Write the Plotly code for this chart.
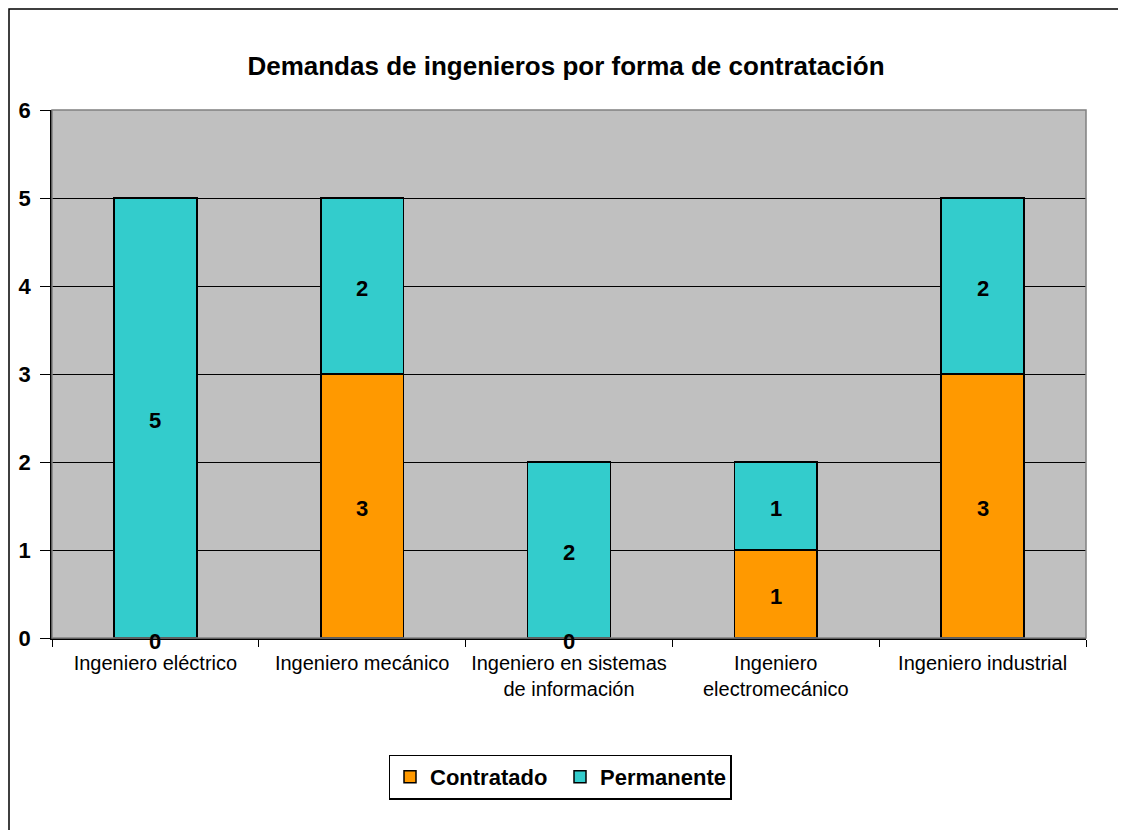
import plotly.graph_objects as go

categorias = ["Ingeniero eléctrico", "Ingeniero mecánico",
              "Ingeniero en sistemas<br>de información",
              "Ingeniero<br>electromecánico", "Ingeniero industrial"]
contratado = [0, 3, 0, 1, 3]
permanente = [5, 2, 2, 1, 2]

FONT = "Liberation Sans, Arial, sans-serif"
# desplazamiento de la pagina (margen del body)
OFF = 8
W, H = 1126 - OFF, 830 - OFF
L, T = 52 - OFF, 110 - OFF
R, B = W - (1086 - OFF), H - (638 - OFF)
pw, ph = W - L - R, H - T - B

fig = go.Figure()
fig.add_trace(go.Bar(name="Contratado", x=categorias, y=contratado,
                     marker=dict(color="#FF9900", line=dict(color="black", width=1.5))))
fig.add_trace(go.Bar(name="Permanente", x=categorias, y=permanente,
                     marker=dict(color="#33CCCC", line=dict(color="black", width=1.5))))

# etiquetas de datos centradas en cada segmento
lab_font = dict(size=22, color="black", family=FONT, weight="bold")
for cat, c, p in zip(categorias, contratado, permanente):
    fig.add_annotation(x=cat, y=c / 2, text=str(c), showarrow=False,
                       font=lab_font, yshift=-2 if c else -3)
    fig.add_annotation(x=cat, y=c + p / 2, text=str(p), showarrow=False,
                       font=lab_font, yshift=-2)

# borde del area de trazado (gris) y borde exterior
fig.add_shape(type="rect", xref="paper", yref="paper", x0=0, x1=1, y0=0, y1=1,
              line=dict(color="#808080", width=1.5), layer="above")
fig.add_shape(type="rect", xref="paper", yref="paper",
              x0=(1 - L) / pw, x1=1.2, y0=-1, y1=1 + (T - 1) / ph,
              line=dict(color="black", width=1.5))

fig.update_layout(
    width=W, height=H,
    margin=dict(l=L, r=R, t=T, b=B, autoexpand=False),
    barmode="stack", bargap=0.6,
    paper_bgcolor="white", plot_bgcolor="#C0C0C0",
    font=dict(family=FONT, color="black"),
    title=dict(text="<b>Demandas de ingenieros por forma de contratación</b>",
               x=(566 - OFF - L) / pw, xref="paper", xanchor="center",
               y=1 - (66 - OFF) / H, yanchor="middle",
               font=dict(size=26, family=FONT, color="black")),
    legend=dict(orientation="h", x=(560 - OFF - L) / pw, xanchor="center",
                y=(T + ph - (777 - OFF)) / ph, yanchor="middle",
                bordercolor="black", borderwidth=1.5, bgcolor="white",
                font=dict(size=22, family=FONT, color="black", weight="bold"),
                entrywidth=125, traceorder="normal"),
    showlegend=True,
)
fig.update_xaxes(showline=True, linecolor="black", linewidth=1.5, automargin=False,
                 ticks="outside", tickson="boundaries", ticklen=7, tickcolor="black",
                 ticklabelstandoff=6,
                 tickfont=dict(size=20, family=FONT, color="black"),
                 showgrid=False)
fig.update_yaxes(range=[0, 6], dtick=1, showline=True, linecolor="black", linewidth=1.5,
                 automargin=False,
                 ticks="outside", ticklen=10, tickcolor="black",
                 ticklabelstandoff=5,
                 tickfont=dict(size=22, family=FONT, color="black", weight="bold"),
                 showgrid=True, gridcolor="black", gridwidth=1, zeroline=False)

fig.write_html("out.html")
